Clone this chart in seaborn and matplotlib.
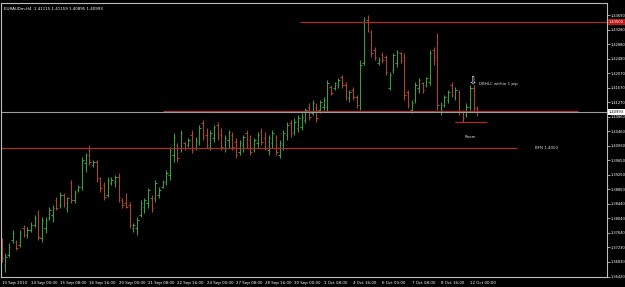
import numpy as np
import pandas as pd
import seaborn as sns
import matplotlib
matplotlib.use("Agg")
import matplotlib.pyplot as plt
import matplotlib.transforms as mtransforms

# ---------------- data (EURAUDm, H4) ----------------
opens = [1.3735, 1.3674, 1.3702, 1.3744, 1.3738, 1.3730, 1.3777, 1.3758, 1.3772, 1.3786,
         1.3819, 1.3749, 1.3777, 1.3805, 1.3813, 1.3855, 1.3841, 1.3869, 1.3833, 1.3902,
         1.3855, 1.3883, 1.3891, 1.3958, 1.3980, 1.3952, 1.3961, 1.3916, 1.3897, 1.3869,
         1.3902, 1.3905, 1.3919, 1.3855, 1.3847, 1.3841, 1.3777, 1.3777, 1.3813, 1.3836,
         1.3847, 1.3860, 1.3860, 1.3869, 1.3891, 1.3905, 1.3924, 1.3980, 1.4008, 1.3999,
         1.4013, 1.4008, 1.4036, 1.3999, 1.4016, 1.4069, 1.4036, 1.4002, 1.4027, 1.4064,
         1.4036, 1.3999, 1.4022, 1.4036, 1.4016, 1.3988, 1.4008, 1.4041, 1.4022, 1.3994,
         1.4013, 1.4044, 1.4027, 1.3994, 1.4013, 1.4030, 1.3980, 1.4008, 1.4036, 1.4069,
         1.4044, 1.4055, 1.4058, 1.4077, 1.4114, 1.4097, 1.4114, 1.4105, 1.4114, 1.4114,
         1.4169, 1.4166, 1.4175, 1.4197, 1.4175, 1.4139, 1.4161, 1.4141, 1.4119, 1.4236,
         1.4355, 1.4322, 1.4272, 1.4236, 1.4258, 1.4253, 1.4166, 1.4216, 1.4236, 1.4264,
         1.4253, 1.4155, 1.4105, 1.4133, 1.4166, 1.4180, 1.4175, 1.4183, 1.4272, 1.4253,
         1.4100, 1.4119, 1.4133, 1.4175, 1.4141, 1.4155, 1.4100, 1.4091, 1.4114, 1.4166,
         1.41115]
highs = [1.3749, 1.3707, 1.3735, 1.3772, 1.3744, 1.3772, 1.3786, 1.3780, 1.3794, 1.3813,
         1.3827, 1.3808, 1.3808, 1.3836, 1.3841, 1.3863, 1.3877, 1.3874, 1.3863, 1.3911,
         1.3883, 1.3897, 1.3974, 1.3985, 1.4008, 1.3966, 1.3966, 1.3919, 1.3905, 1.3919,
         1.3919, 1.3924, 1.3930, 1.3860, 1.3874, 1.3849, 1.3791, 1.3808, 1.3855, 1.3860,
         1.3888, 1.3869, 1.3911, 1.3891, 1.3911, 1.3938, 1.4002, 1.4041, 1.4013, 1.4050,
         1.4016, 1.4027, 1.4050, 1.4030, 1.4064, 1.4077, 1.4055, 1.4050, 1.4064, 1.4072,
         1.4055, 1.4036, 1.4050, 1.4044, 1.4027, 1.4022, 1.4036, 1.4050, 1.4036, 1.4027,
         1.4044, 1.4055, 1.4044, 1.4036, 1.4050, 1.4036, 1.4022, 1.4050, 1.4072, 1.4077,
         1.4083, 1.4091, 1.4097, 1.4111, 1.4125, 1.4133, 1.4125, 1.4133, 1.4141, 1.4189,
         1.4175, 1.4183, 1.4194, 1.4203, 1.4183, 1.4161, 1.4169, 1.4147, 1.4244, 1.4364,
         1.4369, 1.4328, 1.4280, 1.4253, 1.4266, 1.4258, 1.4211, 1.4264, 1.4272, 1.4266,
         1.4264, 1.4161, 1.4133, 1.4183, 1.4194, 1.4183, 1.4197, 1.4272, 1.4280, 1.4319,
         1.4127, 1.4147, 1.4161, 1.4183, 1.4169, 1.4161, 1.4105, 1.4125, 1.4175, 1.4175,
         1.41159]
lows = [1.3683, 1.3655, 1.3696, 1.3735, 1.3716, 1.3724, 1.3752, 1.3749, 1.3766, 1.3780,
        1.3744, 1.3738, 1.3763, 1.3799, 1.3794, 1.3827, 1.3833, 1.3836, 1.3822, 1.3847,
        1.3847, 1.3877, 1.3883, 1.3933, 1.3952, 1.3947, 1.3905, 1.3877, 1.3855, 1.3863,
        1.3897, 1.3891, 1.3849, 1.3833, 1.3833, 1.3777, 1.3766, 1.3758, 1.3808, 1.3819,
        1.3833, 1.3822, 1.3849, 1.3860, 1.3888, 1.3897, 1.3911, 1.3961, 1.3961, 1.3988,
        1.3994, 1.4002, 1.3985, 1.3994, 1.4008, 1.4022, 1.3999, 1.3994, 1.4016, 1.4022,
        1.3994, 1.3988, 1.3999, 1.3994, 1.3971, 1.3980, 1.3988, 1.3999, 1.3980, 1.3988,
        1.3999, 1.4008, 1.3994, 1.3980, 1.3999, 1.3980, 1.3971, 1.3994, 1.4022, 1.4030,
        1.4036, 1.4044, 1.4050, 1.4069, 1.4077, 1.4091, 1.4072, 1.4097, 1.4105, 1.4100,
        1.4147, 1.4161, 1.4166, 1.4166, 1.4133, 1.4127, 1.4133, 1.4111, 1.4105, 1.4230,
        1.4322, 1.4253, 1.4244, 1.4230, 1.4236, 1.4203, 1.4161, 1.4208, 1.4225, 1.4236,
        1.4133, 1.4111, 1.4097, 1.4125, 1.4152, 1.4152, 1.4169, 1.4175, 1.4230, 1.4105,
        1.4091, 1.4114, 1.4125, 1.4141, 1.4133, 1.4091, 1.4072, 1.4086, 1.4105, 1.4100,
        1.40895]
closes = [1.3693, 1.3696, 1.3724, 1.3763, 1.3722, 1.3763, 1.3758, 1.3772, 1.3786, 1.3805,
          1.3752, 1.3799, 1.3799, 1.3827, 1.3833, 1.3833, 1.3869, 1.3847, 1.3860, 1.3855,
          1.3874, 1.3891, 1.3966, 1.3980, 1.3961, 1.3961, 1.3916, 1.3888, 1.3863, 1.3911,
          1.3911, 1.3919, 1.3860, 1.3841, 1.3836, 1.3786, 1.3786, 1.3799, 1.3847, 1.3855,
          1.3883, 1.3833, 1.3902, 1.3883, 1.3905, 1.3930, 1.3994, 1.4030, 1.3971, 1.4041,
          1.3999, 1.4022, 1.3994, 1.4022, 1.4055, 1.4030, 1.4008, 1.4041, 1.4058, 1.4030,
          1.4002, 1.4027, 1.4044, 1.4002, 1.3980, 1.4013, 1.4030, 1.4008, 1.3988, 1.4022,
          1.4036, 1.4016, 1.3999, 1.4027, 1.4041, 1.3988, 1.4013, 1.4041, 1.4064, 1.4041,
          1.4072, 1.4083, 1.4086, 1.4105, 1.4086, 1.4125, 1.4083, 1.4127, 1.4133, 1.4180,
          1.4152, 1.4180, 1.4189, 1.4175, 1.4141, 1.4155, 1.4141, 1.4119, 1.4230, 1.4350,
          1.4328, 1.4264, 1.4253, 1.4244, 1.4244, 1.4211, 1.4203, 1.4258, 1.4266, 1.4244,
          1.4147, 1.4119, 1.4125, 1.4175, 1.4189, 1.4161, 1.4194, 1.4264, 1.4244, 1.4119,
          1.4119, 1.4141, 1.4155, 1.4147, 1.4161, 1.4100, 1.4083, 1.4114, 1.4166, 1.4111,
          1.40993]

x_labels = ["10 Sep 2010", "14 Sep 00:00", "15 Sep 08:00", "16 Sep 16:00", "20 Sep 00:00",
            "21 Sep 08:00", "22 Sep 16:00", "24 Sep 00:00", "27 Sep 08:00", "28 Sep 16:00",
            "30 Sep 00:00", "1 Oct 08:00", "4 Oct 16:00", "6 Oct 00:00", "7 Oct 08:00",
            "8 Oct 16:00", "12 Oct 00:00"]
y_ticks = [1.36420, 1.36830, 1.37230, 1.37640, 1.38040, 1.38440, 1.38850, 1.39250,
           1.39650, 1.40060, 1.40460, 1.40860, 1.41270, 1.41670, 1.42070, 1.42480,
           1.42880, 1.43280, 1.43690]

resistance = 1.43500
support = 1.41020
bfn_level = 1.40000
room_level = 1.40720
bid = 1.40993
title = "EURAUDm,H4  1.41115 1.41159 1.40895 1.40993"

# ---------------- style ----------------
sns.set_theme(style="dark", rc={
    "axes.facecolor": "black", "figure.facecolor": "black",
    "axes.edgecolor": "#bdbdbd", "xtick.color": "#bdbdbd", "ytick.color": "#bdbdbd",
    "text.color": "white", "axes.grid": False,
})
plt.rcParams["font.family"] = ["DejaVu Sans"]

GREEN = "#38a038"
RED = "#b0442e"
LINE_RED = "#a8302c"

df = pd.DataFrame({"open": opens, "high": highs, "low": lows, "close": closes})
df["i"] = np.arange(len(df))
df["color"] = np.where(df["close"] >= df["open"], GREEN, RED)

fig = plt.figure(figsize=(6.25, 2.87), dpi=100)
ax = fig.add_axes([0.0016, 0.0348, 0.9696, 0.9547])
ax.set_facecolor("black")

# OHLC bars
ax.vlines(df["i"], df["low"], df["high"], colors=df["color"], lw=0.75)
ax.hlines(df["open"], df["i"] - 0.42, df["i"], colors=df["color"], lw=0.75)
ax.hlines(df["close"], df["i"], df["i"] + 0.42, colors=df["color"], lw=0.75)

# horizontal objects
ax.hlines(resistance, 81.5, 166, colors=LINE_RED, lw=0.9)
ax.hlines(support, 44.1, 157.5, colors=LINE_RED, lw=0.9)
ax.hlines(bfn_level, -1, 140.8, colors=LINE_RED, lw=0.9)
ax.hlines(room_level, 123.9, 132.6, colors=LINE_RED, lw=0.9)
ax.axhline(bid, color="#9c9c9c", lw=0.8)

# texts
fs = 2.9
ax.text(145.7, bfn_level, "BFN 1.4000", color="#dcdcdc", fontsize=fs, va="center", ha="left")
ax.text(126.6, 1.4030, "Room", color="#dcdcdc", fontsize=fs, va="center", ha="left")
ax.text(130.4, 1.4177, "DBHLC within 1 pip", color="#dcdcdc", fontsize=fs, va="center", ha="left")
ax.text(128.5, 1.4185, "\u21e9", color="white", fontsize=7, va="center", ha="center")
ax.text(0.005, 0.985, title, transform=ax.transAxes, color="white", fontsize=fs,
        va="top", ha="left")

# axes
fs_y = 2.6
ax.set_xlim(-0.16, 165.4)
ax.set_ylim(1.36409, 1.44027)
ax.yaxis.tick_right()
ax.set_yticks(y_ticks)
ax.set_yticklabels([f"{v:.5f}" for v in y_ticks])
ax.set_xticks(np.arange(len(x_labels)) * 8)
ax.set_xticklabels(x_labels, ha="left")
ax.tick_params(axis="x", labelsize=fs, labelcolor="white", length=2, width=0.6,
               direction="out", pad=1)
ax.tick_params(axis="y", labelsize=fs_y, labelcolor="white", length=2, width=0.6,
               direction="out", pad=0.6)
for s in ax.spines.values():
    s.set_color("#bdbdbd")
    s.set_linewidth(0.8)

# price boxes on the axis
trans = mtransforms.blended_transform_factory(ax.transAxes, ax.transData)
ax.text(1.003, resistance, f"{resistance:.5f}", transform=trans, fontsize=fs_y, color="white",
        va="center", ha="left",
        bbox=dict(boxstyle="square,pad=0.2", fc="#c01818", ec="none"))
ax.text(1.003, bid, f"{bid:.5f}", transform=trans, fontsize=fs_y, color="black",
        va="center", ha="left",
        bbox=dict(boxstyle="square,pad=0.2", fc="white", ec="none"))

ax.set_xlabel("")
ax.set_ylabel("")
fig.savefig("out.png", dpi=100, facecolor="black")
